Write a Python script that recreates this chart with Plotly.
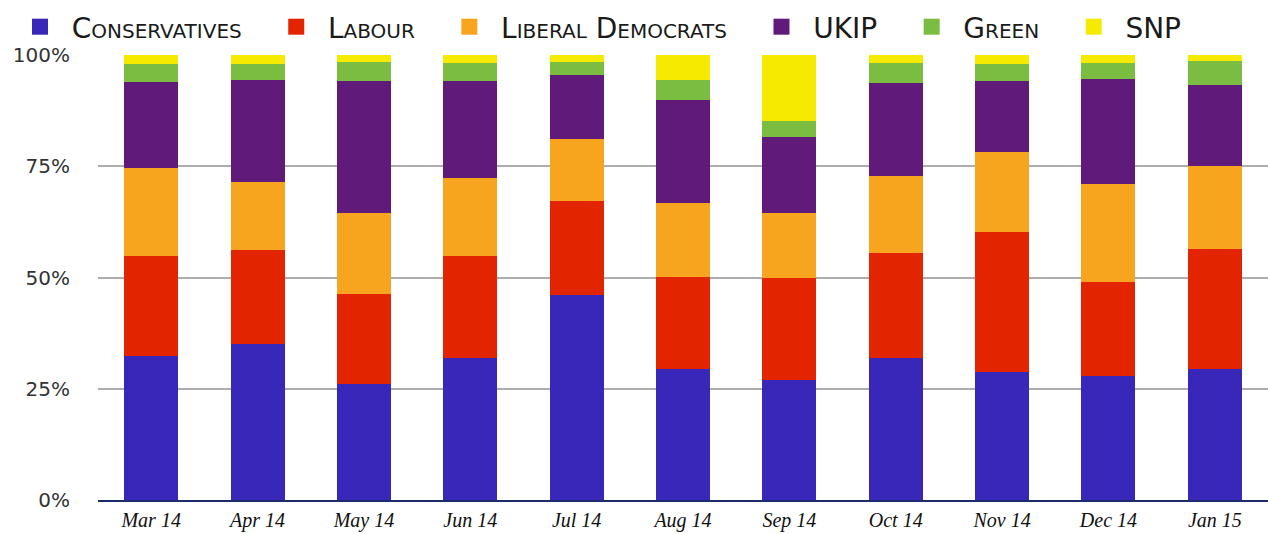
import plotly.graph_objects as go

months = ["Mar 14", "Apr 14", "May 14", "Jun 14", "Jul 14", "Aug 14",
          "Sep 14", "Oct 14", "Nov 14", "Dec 14", "Jan 15"]

conservatives = [32.4, 35.1, 26.1, 31.9, 46.1, 29.5, 27.0, 31.9, 28.8, 27.9, 29.5]
labour = [22.5, 21.1, 20.2, 23.0, 21.1, 20.6, 22.9, 23.6, 31.5, 21.1, 26.9]
lib_dems = [19.8, 15.3, 18.2, 17.5, 14.0, 16.7, 14.6, 17.4, 18.0, 22.1, 18.7]
ukip = [19.3, 22.9, 29.7, 21.8, 14.4, 23.1, 17.1, 20.9, 15.9, 23.6, 18.2]
green = [4.0, 3.6, 4.3, 4.1, 2.9, 4.5, 3.6, 4.5, 3.8, 3.6, 5.4]
snp = [2.0, 2.0, 1.5, 1.7, 1.5, 5.6, 14.8, 1.7, 2.0, 1.7, 1.3]

y_tick_vals = [0, 25, 50, 75, 100]
y_tick_text = ["0%", "25%", "50%", "75%", "100%"]

series = [
    ("Conservatives", conservatives, "#3827b9"),
    ("Labour", labour, "#e32400"),
    ("Liberal Democrats", lib_dems, "#f7a41e"),
    ("UKIP", ukip, "#5f1a7a"),
    ("Green", green, "#7abd40"),
    ("SNP", snp, "#f5ea00"),
]

lead = "\u00a0" + "\u200a"
pad = "\u00a0" * 3 + "\u200a"

fig = go.Figure()
for name, vals, color in series:
    fig.add_trace(go.Bar(
        x=months, y=vals, name=name, showlegend=False,
        legendgroup=name,
        marker=dict(color=color, line=dict(width=0)),
    ))
# legend entries (square swatches)
for i, (name, vals, color) in enumerate(series):
    label = lead + name + (pad if i < len(series) - 1 else "")
    fig.add_trace(go.Scatter(
        x=[None], y=[None], mode="markers", name=label,
        legendgroup=name, showlegend=True, hoverinfo="skip",
        marker=dict(symbol="square", size=16, color=color, line=dict(width=0)),
    ))

plot_w = 1268 - 98
plot_h = 534 - 55 - 34

fig.update_layout(
    barmode="stack",
    bargap=0.493,
    width=1268, height=534,
    margin=dict(l=98, r=0, t=55, b=34, autoexpand=False),
    paper_bgcolor="white",
    plot_bgcolor="white",
    showlegend=True,
    legend=dict(
        orientation="h",
        xref="paper", yref="paper",
        x=(20 - 98) / plot_w, xanchor="left",
        y=(500 - 27) / plot_h, yanchor="middle",
        bgcolor="rgba(0,0,0,0)",
        font=dict(family="DejaVu Sans", size=28, color="#1a1a1a", variant="small-caps"),
        traceorder="normal",
        itemsizing="trace",
        itemclick=False,
    ),
    xaxis=dict(
        type="category",
        range=[-0.5, 10.5],
        showgrid=False,
        showline=True, linecolor="#1b2b6b", linewidth=2,
        ticks="",
        tickfont=dict(family="Liberation Serif", size=20, color="#111111", style="italic"),
        ticklabelstandoff=1,
    ),
    yaxis=dict(
        range=[0, 100],
        tickvals=y_tick_vals, ticktext=y_tick_text,
        showgrid=True, gridcolor="#adadad", gridwidth=2,
        zeroline=False,
        showline=False,
        ticks="",
        tickfont=dict(family="DejaVu Sans", size=20, color="#333333"),
        ticklabelstandoff=27,
    ),
)

fig.write_html("out.html")
